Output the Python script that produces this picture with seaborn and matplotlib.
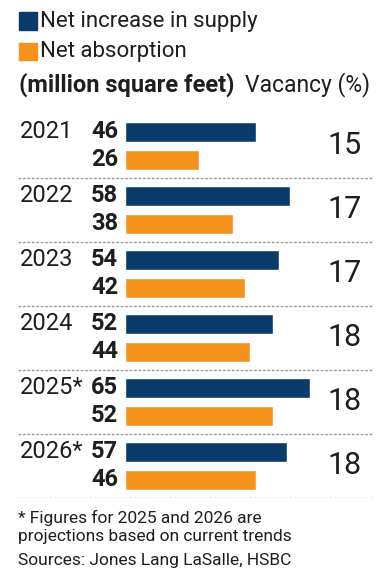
import matplotlib
matplotlib.use("Agg")
import matplotlib.pyplot as plt
from matplotlib.patches import Rectangle
import pandas as pd
import seaborn as sns

# Data
years = ["2021", "2022", "2023", "2024", "2025*", "2026*"]
supply = [46, 58, 54, 52, 65, 57]
absorption = [26, 38, 42, 44, 52, 46]
vacancy = [15, 17, 17, 18, 18, 18]
series = ["Net increase in supply", "Net absorption"]

NAVY = "#0b3b6b"
ORANGE = "#f5921e"
INK = "#1e1e1e"
RULE = "#9c9c9c"

W, H = 390, 583


def fx(px):
    return px / W


def fy(py):
    return 1 - py / H


sns.set_theme(style="white")
plt.rcParams["font.family"] = ["Roboto", "DejaVu Sans"]
plt.rcParams["text.color"] = INK

df = pd.DataFrame({
    "year": years * 2,
    "series": [series[0]] * len(years) + [series[1]] * len(years),
    "value": supply + absorption,
})

fig = plt.figure(figsize=(W / 100, H / 100), dpi=100)
fig.patch.set_facecolor("white")

# axes spans the width of the dotted rules, value 0 sits at the bars' left edge
ax = fig.add_axes([fx(18), fy(498), fx(373) - fx(18), fy(114) - fy(498)])
sns.barplot(data=df, x="value", y="year", hue="series", order=years,
            hue_order=series, palette=[NAVY, ORANGE], orient="h",
            width=0.875, gap=0.286, saturation=1, legend=False, ax=ax)
ax.set_xlim(-37.6, 87.1)
ax.set_ylim(len(years) - 0.5, -0.5)
ax.set_axis_off()

# dotted separators below each year
for k in range(len(years)):
    ax.axhline(k + 0.5, color=RULE, lw=1, ls=(0, (2, 1.2)))

ytrans = ax.get_yaxis_transform()

# value labels just left of each bar
for container, values in zip(ax.containers, [supply, absorption]):
    for bar, v in zip(container, values):
        yc = bar.get_y() + bar.get_height() / 2
        ax.annotate(str(v), (0, yc), xytext=(-5, 0), textcoords="offset points",
                    ha="right", va="center", fontsize=17, fontweight="bold")

# year labels aligned with the supply bar
for bar, yr in zip(ax.containers[0], years):
    yc = bar.get_y() + bar.get_height() / 2
    ax.text(0.006, yc, yr, transform=ytrans, ha="left", va="center", fontsize=17)

# vacancy column
for k, v in enumerate(vacancy):
    ax.text(0.969, k, str(v), transform=ytrans, ha="right", va="center", fontsize=22)

# legend / header
fig.patches.append(Rectangle((fx(19), fy(29.5)), fx(37) - fx(19), fy(12.5) - fy(29.5),
                             transform=fig.transFigure, color=NAVY))
fig.patches.append(Rectangle((fx(19), fy(60)), fx(37) - fx(19), fy(43) - fy(60),
                             transform=fig.transFigure, color=ORANGE))
fig.text(fx(40), fy(22), series[0], ha="left", va="center", fontsize=16)
fig.text(fx(40), fy(52), series[1], ha="left", va="center", fontsize=16)
fig.text(fx(19), fy(85), "(million square feet)", ha="left", va="center",
         fontsize=17, fontweight="bold")
fig.text(fx(370), fy(85), "Vacancy (%)", ha="right", va="center", fontsize=16.5)

# footnotes
fig.text(fx(18), fy(518), "* Figures for 2025 and 2026 are", ha="left", va="center", fontsize=12.5)
fig.text(fx(18), fy(537), "projections based on current trends", ha="left", va="center", fontsize=12.5)
fig.text(fx(18), fy(561), "Sources: Jones Lang LaSalle, HSBC", ha="left", va="center", fontsize=12.5)

fig.savefig("out.png", dpi=100, facecolor="white")
